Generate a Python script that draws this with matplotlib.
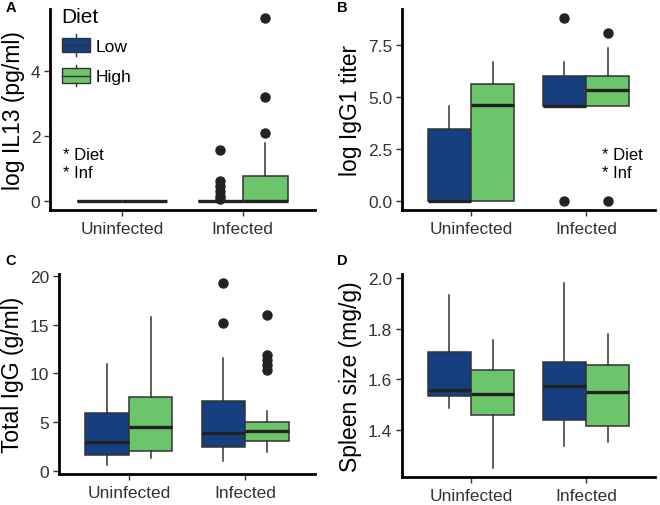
import numpy as np
import matplotlib
matplotlib.use("Agg")
import matplotlib.pyplot as plt
from matplotlib.patches import Rectangle, Patch
from matplotlib.lines import Line2D
from matplotlib.legend_handler import HandlerBase

plt.rcParams['font.family'] = ['Liberation Sans', 'DejaVu Sans']

# categories
groups = ['Uninfected', 'Infected']
diets = ['Low', 'High']
diet_colors = ['#163f80', '#6cc46b']

# box order: Uninfected-Low, Uninfected-High, Infected-Low, Infected-High
# panel A: log IL13
il13_med = [0, 0, 0, 0]
il13_q1 = [0, 0, 0, 0]
il13_q3 = [0, 0, 0, 0.77]
il13_lo = [0, 0, 0, 0]
il13_hi = [0, 0, 0, 1.8]
il13_out = [[], [], [1.57, 0.6, 0.45, 0.3, 0.15, 0.05], [2.1, 3.2, 5.65]]

# panel B: log IgG1 titer
igg1_med = [0, 4.6, 4.58, 5.32]
igg1_q1 = [0, 0, 4.55, 4.57]
igg1_q3 = [3.46, 5.62, 5.99, 5.99]
igg1_lo = [0, 0, 4.55, 4.57]
igg1_hi = [4.57, 6.67, 6.67, 7.33]
igg1_out = [[], [], [8.78, 0], [8.07, 0]]

# panel C: total IgG
tot_med = [2.97, 4.51, 3.86, 4.03]
tot_q1 = [1.64, 2.05, 2.46, 3.0]
tot_q3 = [5.91, 7.59, 7.11, 4.96]
tot_lo = [0.58, 1.3, 1.03, 1.88]
tot_hi = [11.0, 15.8, 11.6, 6.09]
tot_out = [[], [], [15.2, 19.3], [16.05, 11.9, 11.35, 10.9, 10.4]]

# panel D: spleen size
spl_med = [1.557, 1.54, 1.573, 1.551]
spl_q1 = [1.533, 1.46, 1.44, 1.413]
spl_q3 = [1.709, 1.637, 1.667, 1.657]
spl_lo = [1.487, 1.249, 1.337, 1.353]
spl_hi = [1.933, 1.757, 1.98, 1.78]
spl_out = [[], [], [], []]

panels = [
    ('A', 'log IL13 (pg/ml)', il13_med, il13_q1, il13_q3, il13_lo, il13_hi, il13_out, [0, 2, 4], ['0', '2', '4']),
    ('B', 'log IgG1 titer', igg1_med, igg1_q1, igg1_q3, igg1_lo, igg1_hi, igg1_out,
     [0, 2.5, 5, 7.5], ['0.0', '2.5', '5.0', '7.5']),
    ('C', 'Total IgG (g/ml)', tot_med, tot_q1, tot_q3, tot_lo, tot_hi, tot_out,
     [0, 5, 10, 15, 20], ['0', '5', '10', '15', '20']),
    ('D', 'Spleen size (mg/g)', spl_med, spl_q1, spl_q3, spl_lo, spl_hi, spl_out,
     [1.4, 1.6, 1.8, 2.0], ['1.4', '1.6', '1.8', '2.0']),
]

W, H = 660, 506
# axes rectangles in pixels: left, top, right, bottom
rects = [(50, 10, 315, 211), (402, 10, 655, 211), (59, 275, 315, 475), (402, 275, 655, 478)]
letter_pos = [(6, 8), (337, 8), (5, 261), (337, 261)]

edge = '#333333'


class BoxHandler(HandlerBase):
    def create_artists(self, legend, orig_handle, xdescent, ydescent, width, height, fontsize, trans):
        x0, y0 = -xdescent, -ydescent
        bh = height * 0.68
        by = y0 + (height - bh) / 2
        cx = x0 + width / 2
        w1 = Line2D([cx, cx], [y0, by], color=edge, lw=1, transform=trans)
        w2 = Line2D([cx, cx], [by + bh, y0 + height], color=edge, lw=1, transform=trans)
        r = Rectangle((x0, by), width, bh, facecolor=orig_handle.get_facecolor(),
                      edgecolor=edge, lw=1, transform=trans)
        m = Line2D([x0, x0 + width], [by + bh / 2, by + bh / 2], color=edge, lw=1, transform=trans)
        return [w1, w2, r, m]


fig = plt.figure(figsize=(W / 100, H / 100), dpi=100)

box_w = 0.375
for k, (letter, ylabel, med, q1, q3, lo, hi, out, yt, ytl) in enumerate(panels):
    l, t, r, b = rects[k]
    ax = fig.add_axes([l / W, 1 - b / H, (r - l) / W, (b - t) / H])
    stats = []
    positions = []
    colors = []
    for gi in range(len(groups)):
        for di in range(len(diets)):
            i = gi * 2 + di
            stats.append(dict(med=med[i], q1=q1[i], q3=q3[i], whislo=lo[i], whishi=hi[i],
                              fliers=out[i]))
            positions.append(gi + 1 + (di - 0.5) * box_w)
            colors.append(diet_colors[di])
    bp = ax.bxp(stats, positions=positions, widths=box_w, patch_artist=True, showcaps=False,
                boxprops=dict(edgecolor=edge, linewidth=1.1),
                medianprops=dict(color='#222222', linewidth=2.4, solid_capstyle='butt'),
                whiskerprops=dict(color=edge, linewidth=1.1),
                flierprops=dict(marker='o', markerfacecolor='#222222', markeredgecolor='#222222',
                                markersize=6.5, linestyle='none'))
    for patch, c in zip(bp['boxes'], colors):
        patch.set_facecolor(c)

    allv = np.concatenate([lo, hi] + [np.array(o, dtype=float) for o in out if len(o)])
    vmin, vmax = allv.min(), allv.max()
    pad = (vmax - vmin) * 0.05
    ax.set_ylim(vmin - pad, vmax + pad)
    ax.set_xlim(0.4, 2.6)
    ax.set_xticks([1, 2])
    ax.set_xticklabels(groups)
    ax.set_yticks(yt)
    ax.set_yticklabels(ytl)
    ax.set_ylabel(ylabel, fontsize=16.5, labelpad=4)
    for s in ['top', 'right']:
        ax.spines[s].set_visible(False)
    for s in ['left', 'bottom']:
        ax.spines[s].set_linewidth(2)
        ax.spines[s].set_color('black')
    ax.tick_params(axis='both', length=4, width=1, color=edge, labelsize=12.5,
                   labelcolor='#333333', pad=3)
    ax.tick_params(axis='x', pad=4)
    ax.set_facecolor('none')

    fig.text(letter_pos[k][0] / W, 1 - letter_pos[k][1] / H, letter, fontsize=10.5,
             fontweight='bold', va='center', ha='left')

    if letter in ('A', 'B'):
        xa = 0.05 if letter == 'A' else 0.79
        ax.text(xa, 0.23, '* Diet\n* Inf', transform=ax.transAxes, fontsize=12,
                ha='left', va='center', linespacing=1.25)

    if letter == 'A':
        handles = [Patch(facecolor=c) for c in diet_colors]
        leg = ax.legend(handles, diets, title='Diet', loc='upper left',
                        bbox_to_anchor=(-0.015, 1.09), frameon=False, fontsize=12.5,
                        title_fontsize=15, handler_map={Patch: BoxHandler()},
                        handlelength=1.65, handleheight=1.55, labelspacing=0.5,
                        handletextpad=0.3, alignment='left')

fig.savefig('out.png', dpi=100)
